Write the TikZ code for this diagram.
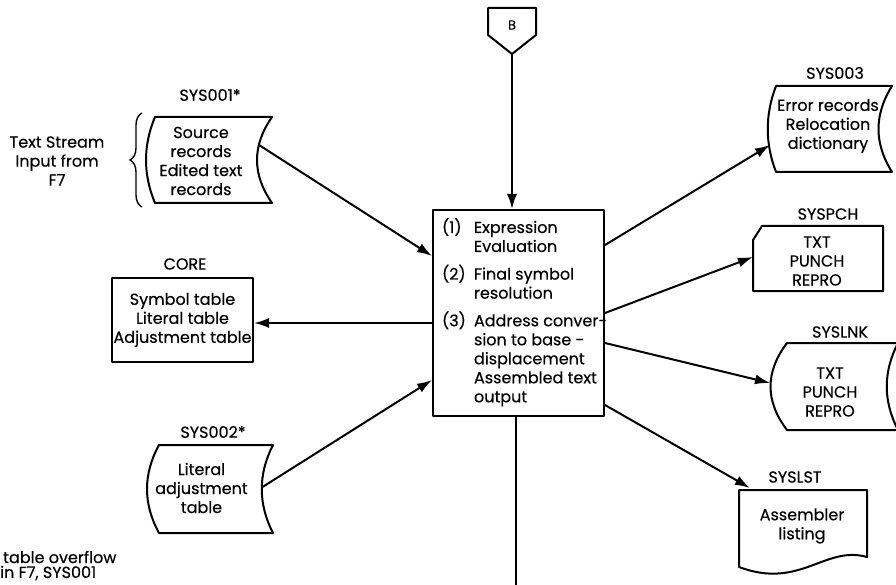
\documentclass[tikz,border=0pt]{standalone}
\usepackage{fontspec}
\setmainfont{Poppins}[FakeBold=0.35]
\usetikzlibrary{arrows.meta,calc,decorations.pathreplacing}
\newcommand\dskoutline[6]{\draw[ln] (#1,#2) -- (#3,#2) .. controls ({#3-#6},{#2+(#4-#2)/3}) and ({#3-#6},{#4-(#4-#2)/3}) .. (#3,#4) -- (#1,#4) .. controls ({#1-#5},{#4-(#4-#2)/3}) and ({#1-#5},{#2+(#4-#2)/3}) .. cycle;}
\begin{document}
\begin{tikzpicture}[x=1pt,y=-1pt,
  ln/.style={line width=2pt, line join=round},
  arr/.style={line width=2pt, -{Latex[length=15pt,width=10pt]}},
  txt/.style={font=\fontsize{16}{19}\selectfont, align=center, inner sep=0pt},
  lab/.style={font=\fontsize{16}{19}\selectfont, inner sep=0pt}]
\useasboundingbox (0,0) rectangle (896,585);

% off-page connector B
\draw[ln] (488,8) -- (536,8) -- (536,35) -- (512,54) -- (488,35) -- cycle;
\node[font=\fontsize{13}{15}\selectfont, inner sep=0pt] (B) at (512,25) {B};
\coordinate (Btip) at (512,54);

% central process box
\node[draw, ln, minimum width=171pt, minimum height=206pt, inner sep=0pt,
      font=\fontsize{16}{19}\selectfont] (c) at (518.5,313)
  {\makebox[171pt][l]{\hspace*{9pt}\begin{tabular}{@{}p{32pt}@{}l@{}}
   (1) & Expression\\
       & Evaluation\\[7pt]
   (2) & Final symbol\\
       & resolution\\[7pt]
   (3) & Address conver-\\
       & sion to base -\\
       & displacement\\
       & Assembled text\\
       & output
  \end{tabular}}};

% SYS001 (left input)
\dskoutline{155}{117}{272}{203}{12}{20}
\node[txt] (s1) at (201,161) {Source\\records\\Edited text\\records};
\node[lab] (l1) at (210,95) {SYS001*};
\draw[line width=1.4pt, decorate, decoration={brace, amplitude=12pt}] (142,207) -- (142,113);
\node[txt] (t1) at (57,161) {Text Stream\\Input from\\F7};

% CORE
\node[draw, ln, minimum width=141pt, minimum height=84pt, txt] (core) at (182.5,320)
  {Symbol table\\Literal table\\Adjustment table};
\node[lab] (lcore) at (185,264) {CORE};

% SYS002
\dskoutline{159}{445}{273}{533}{16}{15}
\node[txt] (s2) at (201.5,488) {Literal\\adjustment\\table};
\node[lab] (l2) at (213,432) {SYS002*};

% footnote text
\node[lab, anchor=west] (n1) at (3,557) {table overflow};
\node[lab, anchor=west] (n2) at (0,573) {in F7, SYS001};

% SYS003
\dskoutline{776}{86}{892}{172}{11}{18}
\node[txt] (s3) at (828,126) {Error records\\Relocation\\dictionary};
\node[lab] (l3) at (835,73) {SYS003};

% SYSPCH card
\draw[ln] (762,226) -- (883,226) -- (883,291) -- (753,291) -- (753,240) -- cycle;
\node[txt] (pch) at (817,261) {TXT\\PUNCH\\REPRO};
\node[lab] (lpch) at (828,214) {SYSPCH};

% SYSLNK
\dskoutline{787}{343}{898}{430}{22}{15}
\node[txt] (lnk) at (830,392) {TXT\\PUNCH\\REPRO};
\node[lab] (llnk) at (840,332) {SYSLNK};

% SYSLST document
\draw[ln] (739,490) -- (867,490) -- (867,557) .. controls (825,545) and (800,590) .. (739,567) -- cycle;
\node[txt] (lst) at (802,526) {Assembler\\listing};
\node[lab] (llst) at (795,477) {SYSLST};

% connectors
\draw[arr] (Btip) -- (Btip |- c.north);
\draw[arr] ($(s1)+(58,-16)$) -- ($(c.west)+(0,-57)$);
\draw[arr] ($(c.west)+(0,10)$) -- ($(core.east)+(0,3)$);
\draw[arr] ($(s2)+(61,-1)$) -- ($(c.west)+(0,67)$);
\draw[arr] ($(c.east)+(0,-68)$) -- ($(s3)+(-58,19)$);
\draw[arr] (c.east) -- ($(pch)+(-64,-4)$);
\draw[arr] ($(c.east)+(0,30)$) -- ($(lnk)+(-60,-9)$);
\draw[arr] ($(c.east)+(0,92)$) -- ($(lst)+(-52,-38)$);
\draw[ln] ($(c.south)+(-2.5,0)$) -- ++(0,172);
\end{tikzpicture}
\end{document}
